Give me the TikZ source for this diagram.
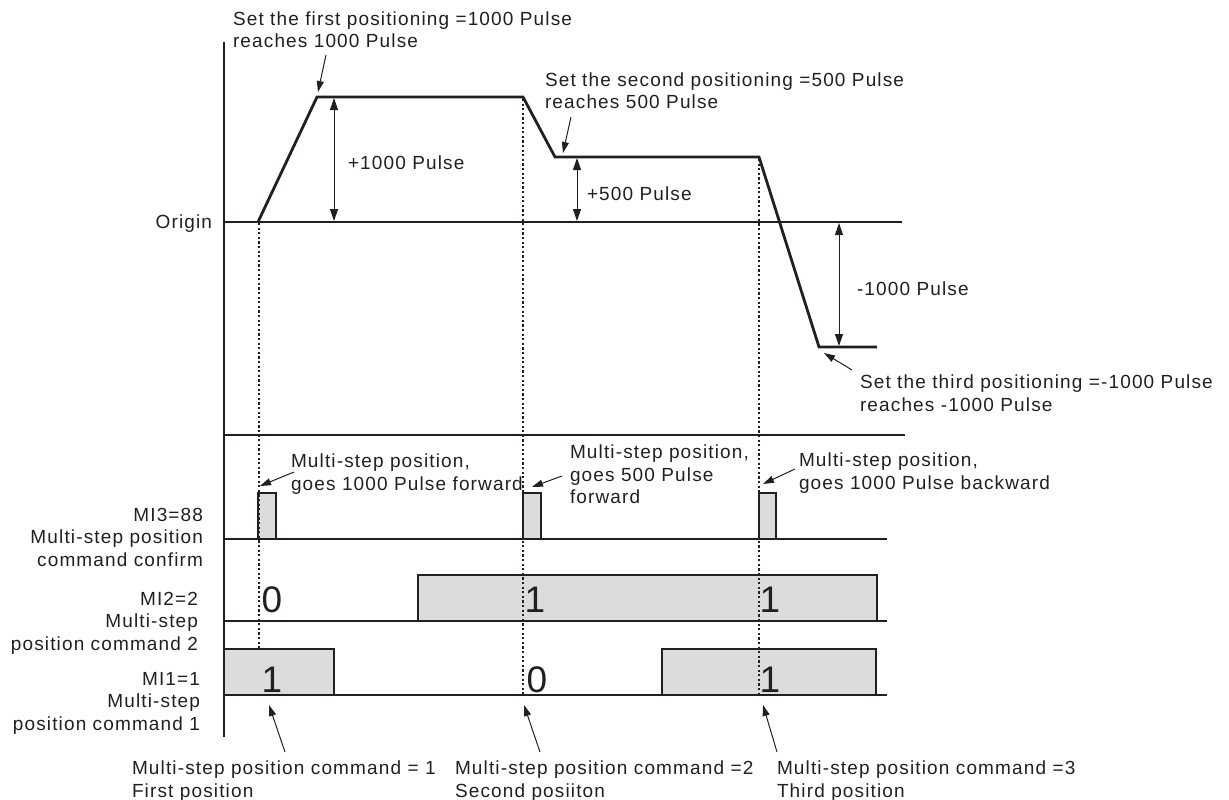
\documentclass[tikz,border=0pt]{standalone}
\usepackage{fontspec}
\setmainfont{Liberation Sans}[LetterSpace=6]
\usetikzlibrary{arrows.meta}
\definecolor{ink}{HTML}{231F20}
\definecolor{boxgray}{HTML}{DCDCDC}
\begin{document}
\begin{tikzpicture}[x=1pt,y=-1pt,
  every node/.style={inner sep=0pt,outer sep=0pt,text=ink},
  txt/.style={font=\fontsize{19}{22.5}\selectfont},
  lbl/.style={txt,align=left,anchor=north west},
  rlbl/.style={txt,align=right,anchor=north east},
  digit/.style={font=\fontsize{37}{37}\selectfont},
  thinline/.style={draw=ink,line width=1.1pt},
  profile/.style={draw=ink,line width=2.8pt,line join=miter},
  dots/.style={draw=ink,line width=2.2pt,dash pattern=on 2.2pt off 2.4pt},
  ptr/.style={draw=ink,line width=1pt,-{Triangle[length=11pt,width=7pt]}},
  dim/.style={draw=ink,line width=1pt,{Triangle[length=12pt,width=8pt]}-{Triangle[length=12pt,width=8pt]}},
  sig/.style={draw=ink,line width=1.1pt,fill=boxgray}]
\useasboundingbox (0,0) rectangle (1229,800);

% axes and level lines
\coordinate (axT) at (224,42);
\coordinate (axB) at (224,737);
\draw[thinline] (axT) -- (axB);
\coordinate (oL) at (224,222); \coordinate (oR) at (902,222);
\draw[thinline] (oL) -- (oR);
\coordinate (sL) at (224,435); \coordinate (sR) at (905,435);
\draw[thinline] (sL) -- (sR);
\coordinate (m3L) at (224,539); \coordinate (m3R) at (887,539);
\coordinate (m2L) at (224,621); \coordinate (m2R) at (887,621);
\coordinate (m1L) at (224,695); \coordinate (m1R) at (887,695);

% signal boxes
\draw[sig] (258,539) rectangle (276,493);
\draw[sig] (523,539) rectangle (541,493);
\draw[sig] (759,539) rectangle (776,493);
\draw[sig] (418,621) rectangle (877,575);
\draw[sig] (224,695) rectangle (334,649);
\draw[sig] (662,695) rectangle (876,649);
\draw[thinline] (m3L) -- (m3R);
\draw[thinline] (m2L) -- (m2R);
\draw[thinline] (m1L) -- (m1R);

% digits
\node[digit] (d21) at (272,600) {0};
\node[digit] (d22) at (535,600) {1};
\node[digit] (d23) at (770,600) {1};
\node[digit] (d11) at (272,680) {1};
\node[digit] (d12) at (537,680) {0};
\node[digit] (d13) at (770,680) {1};

% position profile
\coordinate (p0) at (258,222);
\coordinate (p1) at (317,97);
\coordinate (p2) at (523,97);
\coordinate (p3) at (555,157);
\coordinate (p4) at (759,157);
\coordinate (p5) at (819,347);
\coordinate (p6) at (877,347);
\draw[profile] (p0) -- (p1) -- (p2) -- (p3) -- (p4) -- (p5) -- (p6);

% dotted markers
\coordinate (v1b) at (259,649);
\coordinate (v2b) at (523,695);
\coordinate (v3b) at (759,695);
\draw[dots] (259,223) -- (v1b);
\draw[dots] (523,99) -- (v2b);
\draw[dots] (759,159) -- (v3b);

% dimension arrows
\draw[dim] (334,98) -- (334,221);
\draw[dim] (577,158) -- (577,221);
\draw[dim] (839,223) -- (839,346);
\node[txt,anchor=west] (n1000) at (348,163) {+1000 Pulse};
\node[txt,anchor=west] (n500) at (587,194) {+500 Pulse};
\node[txt,anchor=west] (nm1000) at (857,289) {-1000 Pulse};
\node[txt,anchor=east] (origin) at (212,224) {Origin};

% top annotations
\node[lbl] (t1) at (233,11.5) {Set the first positioning =1000 Pulse\\reaches 1000 Pulse};
\node[lbl] (t2) at (545,72.5) {Set the second positioning =500 Pulse\\reaches 500 Pulse};
\node[lbl] (t3) at (860,375) {Set the third positioning =-1000 Pulse\\reaches -1000 Pulse};
\coordinate (t1a) at (326,55); \coordinate (t1b) at (318,92);
\coordinate (t2a) at (571,117); \coordinate (t2b) at (563,153);
\coordinate (t3a) at (852,370); \coordinate (t3b) at (824,353);
\draw[ptr] (t1a) -- (t1b);
\draw[ptr] (t2a) -- (t2b);
\draw[ptr] (t3a) -- (t3b);

% pulse annotations
\node[lbl] (a1) at (291,454) {Multi-step position,\\goes 1000 Pulse forward};
\node[lbl] (a2) at (570,445) {Multi-step position,\\goes 500 Pulse\\forward};
\node[lbl] (a3) at (799,453) {Multi-step position,\\goes 1000 Pulse backward};
\coordinate (a1a) at (294,472); \coordinate (a1b) at (260,486);
\coordinate (a2a) at (562,476); \coordinate (a2b) at (532,487);
\coordinate (a3a) at (795,469); \coordinate (a3b) at (763,484);
\draw[ptr] (a1a) -- (a1b);
\draw[ptr] (a2a) -- (a2b);
\draw[ptr] (a3a) -- (a3b);

% signal labels
\node[rlbl] (l3) at (203,508) {MI3=88\\Multi-step position\\command confirm};
\node[rlbl] (l2) at (198,592) {MI2=2\\Multi-step\\position command 2};
\node[rlbl] (l1) at (200,672) {MI1=1\\Multi-step\\position command 1};

% bottom annotations
\node[lbl] (b1) at (132,761) {Multi-step position command = 1\\First position};
\node[lbl] (b2) at (455,761) {Multi-step position command =2\\Second posiiton};
\node[lbl] (b3) at (777,761) {Multi-step position command =3\\Third position};
\coordinate (b1a) at (285,752); \coordinate (b1b) at (269,705);
\coordinate (b2a) at (540,752); \coordinate (b2b) at (524,705);
\coordinate (b3a) at (777,752); \coordinate (b3b) at (763,705);
\draw[ptr] (b1a) -- (b1b);
\draw[ptr] (b2a) -- (b2b);
\draw[ptr] (b3a) -- (b3b);
\end{tikzpicture}
\end{document}
